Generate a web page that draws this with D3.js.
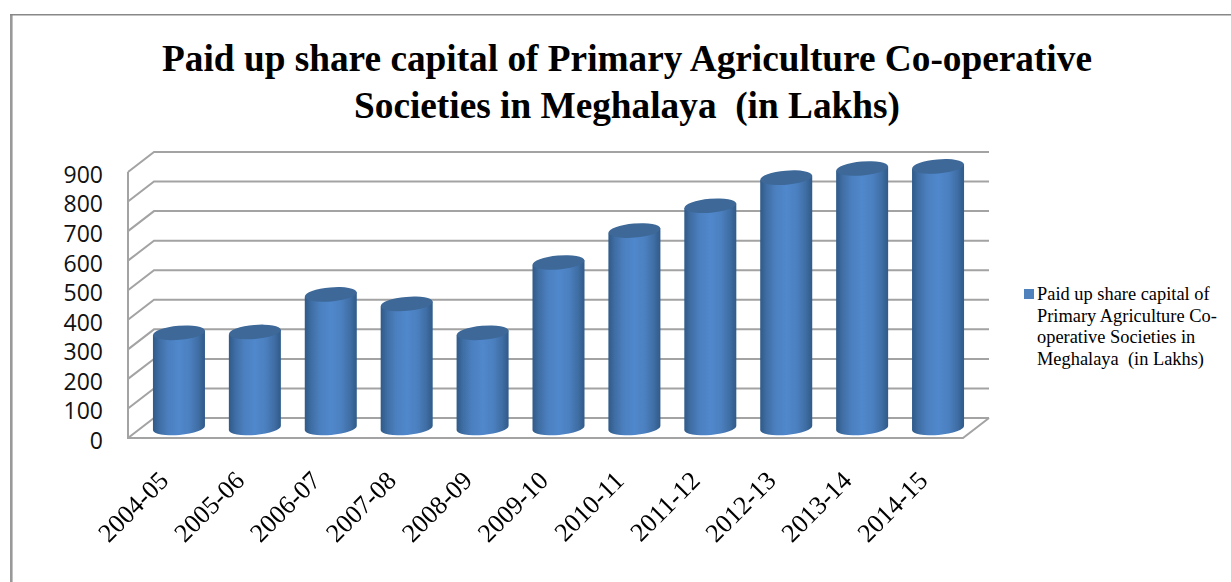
<!DOCTYPE html>
<html>
<head>
<meta charset="utf-8">
<script src="https://cdn.jsdelivr.net/npm/d3@7"></script>
<style>
  html, body { margin: 0; padding: 0; background: #fff; }
  svg { display: block; }
  text { white-space: pre; }
</style>
</head>
<body>
<svg id="chart" width="1231" height="582"></svg>
<script>
const years = ['2004-05', '2005-06', '2006-07', '2007-08', '2008-09', '2009-10', '2010-11', '2011-12', '2012-13', '2013-14', '2014-15'];
const capital = [322, 325, 452, 420, 322, 560, 668, 752, 847, 878, 885];
const yTicks = [0, 100, 200, 300, 400, 500, 600, 700, 800, 900];
const titleLines = ['Paid up share capital of Primary Agriculture Co-operative', 'Societies in Meghalaya  (in Lakhs)'];
const legendLines = ['Paid up share capital of', 'Primary Agriculture Co-', 'operative Societies in', 'Meghalaya  (in Lakhs)'];

const svg = d3.select('#chart');

// front plane of the 3d box, the back wall is shifted by depth
const plot = {left: 128, right: 963, top: 172, bottom: 438};
const depth = {x: 26, y: -20};

const x = d3.scaleBand().domain(years).range([plot.left, plot.right]);
const y = d3.scaleLinear().domain([0, 900]).range([plot.bottom, plot.top]);

const defs = svg.append('defs');
const barFill = defs.append('linearGradient').attr('id', 'barFill');
barFill.append('stop').attr('offset', '0%').attr('stop-color', '#2f5a88');
barFill.append('stop').attr('offset', '12%').attr('stop-color', '#3f6da3');
barFill.append('stop').attr('offset', '30%').attr('stop-color', '#4c80c0');
barFill.append('stop').attr('offset', '50%').attr('stop-color', '#5088cc');
barFill.append('stop').attr('offset', '70%').attr('stop-color', '#4c80c0');
barFill.append('stop').attr('offset', '88%').attr('stop-color', '#3f6da3');
barFill.append('stop').attr('offset', '100%').attr('stop-color', '#2f5a88');
defs.append('filter').attr('id', 'soft')
  .append('feGaussianBlur').attr('stdDeviation', 0.6);

// outer frame, only top and left show
svg.append('path')
  .attr('d', 'M11.3,582V14')
  .attr('stroke', '#999')
  .attr('stroke-width', 2.6);
svg.append('path')
  .attr('d', 'M10,14.7H1231')
  .attr('stroke', '#888')
  .attr('stroke-width', 1.5);

svg.append('g').selectAll('text')
  .data(titleLines)
  .join('text')
  .attr('x', 627)
  .attr('y', (d, i) => 71 + i * 47)
  .attr('text-anchor', 'middle')
  .attr('font-family', '"Liberation Serif"')
  .attr('font-weight', 'bold')
  .attr('font-size', 37.3)
  .attr('fill', '#000')
  .text(d => d);

// walls and gridlines
const walls = svg.append('g')
  .attr('fill', 'none')
  .attr('stroke', '#a3a3a3')
  .attr('stroke-width', 2)
  .attr('filter', 'url(#soft)');

walls.selectAll('.grid')
  .data(yTicks)
  .join('path')
  .attr('class', 'grid')
  .attr('d', d => `M${plot.left},${y(d)}l${depth.x},${depth.y}H${plot.right + depth.x}`);

walls.append('path')
  .attr('d', `M${plot.left},${y(900)}V${y(0)}H${plot.right}l${depth.x},${depth.y}`);

// cylinders stand half way into the box
const bars = svg.append('g').attr('filter', 'url(#soft)');
const rx = 26;
const ry = 7;
const tilt = -5;
const baseY = y(0) + depth.y / 2;
const valueH = v => y(0) - y(v);

const bar = bars.selectAll('g')
  .data(years.map((d, i) => ({year: d, value: capital[i]})))
  .join('g')
  .attr('transform', d => `translate(${x(d.year) + x.bandwidth() / 2 + depth.x / 2},${baseY})`);

bar.append('path')
  .attr('fill', 'url(#barFill)')
  .attr('d', d => {
    const t = Math.tan(tilt * Math.PI / 180) * rx;
    return `M${-rx},${-valueH(d.value) - t}` +
      `L${-rx},${-t}` +
      `A${rx},${ry} ${tilt} 0 0 ${rx},${t}` +
      `L${rx},${-valueH(d.value) + t}Z`;
  });

bar.append('ellipse')
  .attr('rx', rx)
  .attr('ry', ry)
  .attr('cy', d => -valueH(d.value))
  .attr('transform', d => `rotate(${tilt} 0 ${-valueH(d.value)})`)
  .attr('fill', '#3c6898');

// axes, lines are hidden because the walls already draw them
const yAxis = svg.append('g')
  .attr('transform', `translate(${plot.left - 19},3)`)
  .call(d3.axisLeft(y).tickValues(yTicks).tickSize(0).tickPadding(6));
yAxis.select('.domain').remove();
yAxis.selectAll('text')
  .attr('font-family', '"Open Sans"')
  .attr('font-size', 23)
  .attr('fill', '#111');

const xAxis = svg.append('g')
  .attr('transform', `translate(0,${plot.bottom})`)
  .call(d3.axisBottom(x).tickSize(0));
xAxis.select('.domain').remove();
xAxis.selectAll('text')
  .attr('font-family', '"Liberation Serif"')
  .attr('font-size', 26)
  .attr('fill', '#000')
  .attr('text-anchor', 'end')
  .attr('dy', 0)
  .attr('transform', 'translate(2,42) rotate(-45)');

// legend
svg.append('rect')
  .attr('x', 1024)
  .attr('y', 289)
  .attr('width', 10)
  .attr('height', 10)
  .attr('fill', '#4f81bd');

svg.append('g').selectAll('text')
  .data(legendLines)
  .join('text')
  .attr('x', 1037)
  .attr('y', (d, i) => 300 + i * 21.7)
  .attr('font-family', '"Liberation Serif"')
  .attr('font-size', 18.4)
  .attr('fill', '#000')
  .text(d => d);
</script>
</body>
</html>
